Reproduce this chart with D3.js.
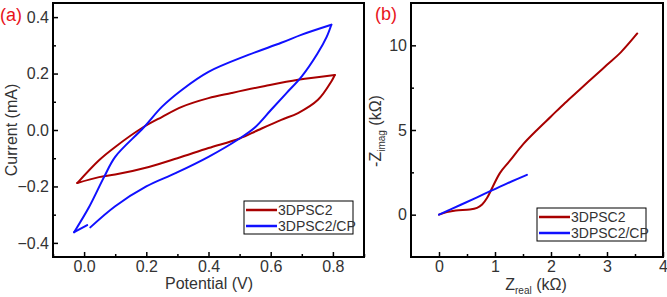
<!DOCTYPE html>
<html>
<head>
<meta charset="utf-8">
<script src="https://cdn.jsdelivr.net/npm/d3@7"></script>
<style>
  body { margin: 0; background: #fff; }
  svg { display: block; }
  text { font-family: Arial, "Liberation Sans", sans-serif; }
</style>
</head>
<body>
<svg id="chart" width="667" height="297"></svg>
<script>
// ---- panel (a): cyclic voltammetry ----
const cvRedV = [-0.022, 0.048, 0.1, 0.208, 0.3, 0.4, 0.5, 0.56, 0.634, 0.688, 0.752, 0.795, 0.806,
                0.688, 0.582, 0.474, 0.4, 0.314, 0.25, 0.186, 0.1, 0.048, -0.022];
const cvRedI = [-0.188, -0.167, -0.158, -0.131, -0.1, -0.064, -0.03, 0.0, 0.036, 0.06, 0.107, 0.172, 0.195,
                0.178, 0.156, 0.131, 0.113, 0.082, 0.046, 0.007, -0.06, -0.107, -0.188];
const cvBlueV = [0.02, 0.1, 0.2, 0.294, 0.4, 0.5, 0.55, 0.6, 0.65, 0.7, 0.75, 0.78, 0.795,
                 0.7, 0.634, 0.528, 0.4, 0.314, 0.25, 0.19, 0.1, 0.064, 0.016, -0.032, 0.01];
const cvBlueI = [-0.345, -0.27, -0.2, -0.153, -0.095, -0.03, 0.01, 0.07, 0.13, 0.19, 0.27, 0.33, 0.373,
                 0.338, 0.309, 0.266, 0.206, 0.142, 0.082, 0.007, -0.095, -0.167, -0.273, -0.362, -0.337];
// indices where the sweep reverses (sharp turning points)
const cvRedTurns = [12];
const cvBlueTurns = [12, 23];

// ---- panel (b): Nyquist plot ----
const eisRedRe = [0, 0.14, 0.3, 0.55, 0.68, 0.77, 0.86, 0.96, 1.09, 1.27, 1.5, 1.75, 2.0, 2.25, 2.5, 2.75, 3.0, 3.25, 3.54];
const eisRedIm = [0, 0.15, 0.25, 0.3, 0.4, 0.6, 1.0, 1.65, 2.47, 3.2, 4.15, 5.0, 5.8, 6.6, 7.35, 8.1, 8.85, 9.6, 10.7];
const eisBlueRe = [0, 0.4, 0.8, 1.2, 1.57];
const eisBlueIm = [0, 0.6, 1.21, 1.82, 2.35];

const seriesNames = ['3DPSC2', '3DPSC2/CP'];
const seriesColors = ['#a80000', '#1010ff'];

const cvXTicks = [0.0, 0.2, 0.4, 0.6, 0.8];
const cvXMinor = [-0.1, 0.1, 0.3, 0.5, 0.7, 0.9];
const cvYTicks = [-0.4, -0.2, 0.0, 0.2, 0.4];
const cvYMinor = [-0.3, -0.1, 0.1, 0.3];
const eisXTicks = [0, 1, 2, 3, 4];
const eisXMinor = [0.5, 1.5, 2.5, 3.5];
const eisYTicks = [0, 5, 10];
const eisYMinor = [2.5, 7.5];

const svg = d3.select('#chart');
const textColor = '#333';

function zip(xs, ys) { return xs.map((x, i) => [x, ys[i]]); }

// split a series at its turning points so the tips stay sharp
function splitAt(points, turns) {
  const parts = [];
  let start = 0;
  turns.forEach(t => { parts.push(points.slice(start, t + 1)); start = t; });
  parts.push(points.slice(start));
  return parts;
}

function drawPanel(opt) {
  const x = d3.scaleLinear().domain(opt.xDomain).range([opt.left, opt.right]);
  const y = d3.scaleLinear().domain(opt.yDomain).range([opt.bottom, opt.top]);
  const g = svg.append('g');

  // curves
  const line = d3.line().x(d => x(d[0])).y(d => y(d[1])).curve(d3.curveCatmullRom.alpha(0.5));
  opt.series.forEach((s, i) => {
    splitAt(s, opt.turns[i]).forEach(part => {
      g.append('path')
        .attr('d', line(part))
        .attr('fill', 'none')
        .attr('stroke', seriesColors[i])
        .attr('stroke-width', 2)
        .attr('stroke-linecap', 'round');
    });
  });

  // axes, ticks pointing inward
  g.append('g').attr('transform', `translate(0,${opt.bottom})`)
    .call(d3.axisBottom(x).tickValues(opt.xTicks).tickSize(-5).tickPadding(4).tickFormat(opt.xFormat));
  g.append('g').attr('transform', `translate(0,${opt.bottom})`)
    .call(d3.axisBottom(x).tickValues(opt.xMinor).tickSize(-3).tickFormat(''));
  g.append('g').attr('transform', `translate(${opt.left},0)`)
    .call(d3.axisLeft(y).tickValues(opt.yTicks).tickSize(-5).tickPadding(4).tickFormat(opt.yFormat));
  g.append('g').attr('transform', `translate(${opt.left},0)`)
    .call(d3.axisLeft(y).tickValues(opt.yMinor).tickSize(-3).tickFormat(''));
  g.selectAll('.domain').remove();
  g.selectAll('.tick line').attr('stroke', '#000').attr('stroke-width', 1.5);
  g.selectAll('.tick text').attr('font-size', 16).attr('fill', textColor)
    .attr('font-family', 'Arial, "Liberation Sans", sans-serif');

  // frame
  g.append('rect')
    .attr('x', opt.left).attr('y', opt.top)
    .attr('width', opt.right - opt.left).attr('height', opt.bottom - opt.top)
    .attr('fill', 'none').attr('stroke', '#000').attr('stroke-width', 2);

  // legend
  const lg = g.append('g').attr('transform', `translate(${opt.legend[0]},${opt.legend[1]})`);
  lg.append('rect').attr('width', 109).attr('height', 33)
    .attr('fill', '#fff').attr('stroke', '#000').attr('stroke-width', 1);
  seriesNames.forEach((name, i) => {
    const ly = 9 + i * 16;
    lg.append('line').attr('x1', 2).attr('x2', 33).attr('y1', ly).attr('y2', ly)
      .attr('stroke', seriesColors[i]).attr('stroke-width', 2.5);
    lg.append('text').attr('x', 34).attr('y', ly + 5)
      .attr('font-size', 14).attr('fill', textColor).text(name);
  });
  return { x, y, g };
}

// panel (a)
drawPanel({
  left: 53, right: 364, top: 3, bottom: 257,
  xDomain: [-0.1, 0.9], yDomain: [-0.45, 0.45],
  xTicks: cvXTicks, xMinor: cvXMinor, yTicks: cvYTicks, yMinor: cvYMinor,
  xFormat: d3.format('.1f'), yFormat: d => d3.format('.1f')(d).replace('-', '\u2212'),
  series: [zip(cvRedV, cvRedI), zip(cvBlueV, cvBlueI)],
  turns: [cvRedTurns, cvBlueTurns],
  legend: [244, 201]
});

// panel (b)
drawPanel({
  left: 411, right: 663, top: 3, bottom: 257,
  xDomain: [-0.5, 4], yDomain: [-2.5, 12.5],
  xTicks: eisXTicks, xMinor: eisXMinor, yTicks: eisYTicks, yMinor: eisYMinor,
  xFormat: d3.format('d'), yFormat: d3.format('d'),
  series: [zip(eisRedRe, eisRedIm), zip(eisBlueRe, eisBlueIm)],
  turns: [[], []],
  legend: [537, 208]
});

// panel letters
svg.append('text').attr('x', 0).attr('y', 21).attr('font-size', 18).attr('fill', '#e8141c').text('(a)');
svg.append('text').attr('x', 375).attr('y', 20).attr('font-size', 18).attr('fill', '#e8141c').text('(b)');

// axis titles
svg.append('text').attr('x', 209).attr('y', 289).attr('text-anchor', 'middle')
  .attr('font-size', 16).attr('fill', textColor).text('Potential (V)');
svg.append('text').attr('transform', 'translate(17,130) rotate(-90)').attr('text-anchor', 'middle')
  .attr('font-size', 16).attr('fill', textColor).text('Current (mA)');

const xt = svg.append('text').attr('x', 536).attr('y', 290).attr('text-anchor', 'middle')
  .attr('font-size', 16).attr('fill', textColor);
xt.append('tspan').text('Z');
xt.append('tspan').attr('font-size', 10).attr('dy', 4).text('real');
xt.append('tspan').attr('dy', -4).text(' (k\u03A9)');

const yt = svg.append('text').attr('transform', 'translate(381,131) rotate(-90)').attr('text-anchor', 'middle')
  .attr('font-size', 16).attr('fill', textColor);
yt.append('tspan').text('-Z');
yt.append('tspan').attr('font-size', 10).attr('dy', 4).text('imag');
yt.append('tspan').attr('dy', -4).text(' (k\u03A9)');
</script>
</body>
</html>
